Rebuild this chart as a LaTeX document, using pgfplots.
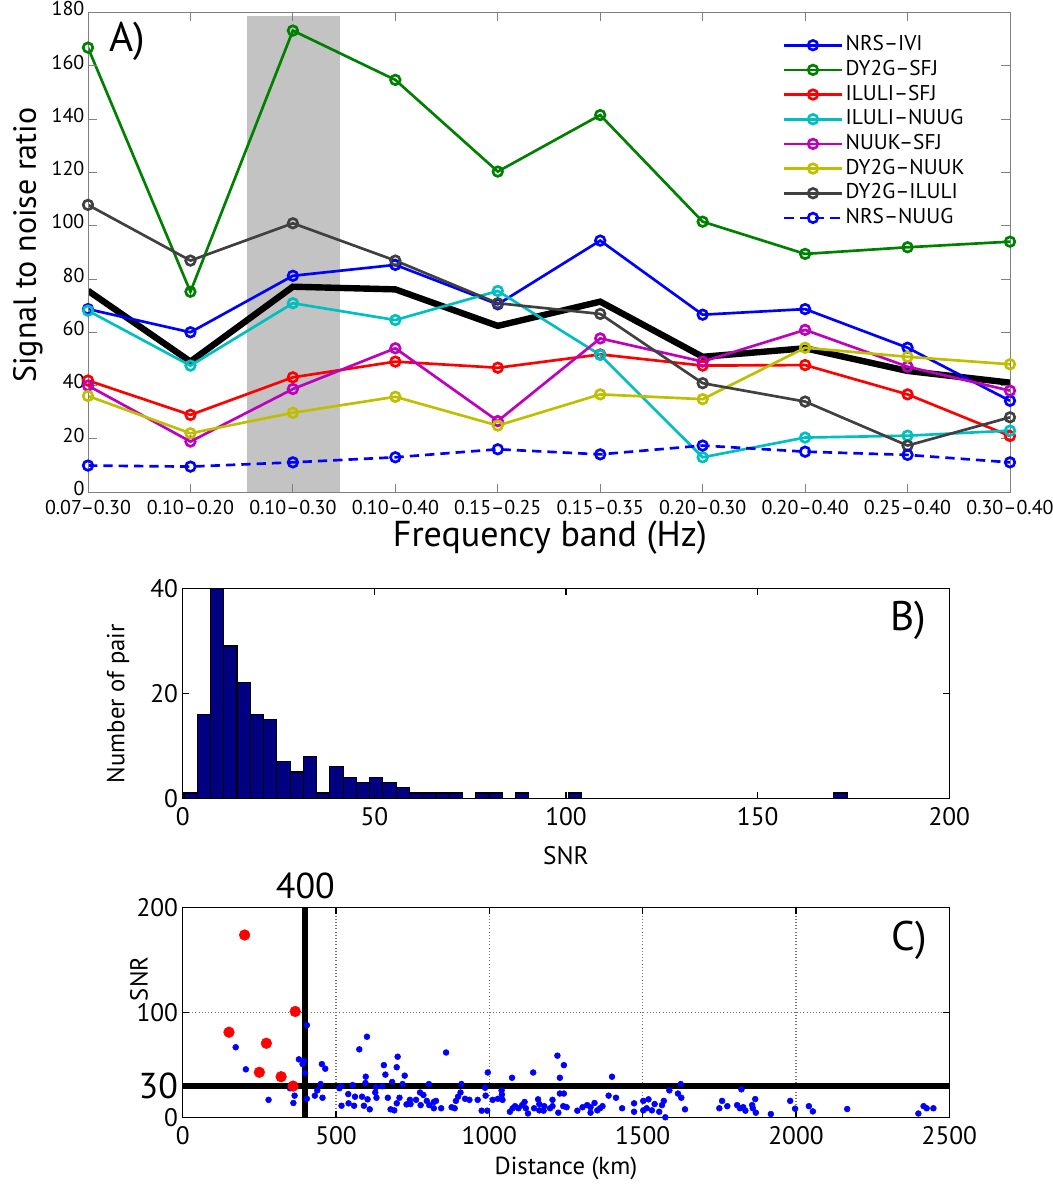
\documentclass[border=0pt]{standalone}
\usepackage{pgfplots}
\pgfplotsset{compat=1.18}
\usepackage{fontspec}
\setmainfont{PT Sans}
\definecolor{mblue}{rgb}{0,0,1}
\definecolor{mgreen}{rgb}{0,0.5,0}
\definecolor{mred}{rgb}{1,0,0}
\definecolor{mcyan}{rgb}{0,0.75,0.75}
\definecolor{mmag}{rgb}{0.75,0,0.75}
\definecolor{myel}{rgb}{0.75,0.75,0}
\definecolor{mgray}{rgb}{0.25,0.25,0.25}
\definecolor{shade}{RGB}{195,195,195}
\definecolor{navy}{rgb}{0,0,0.5}
\pgfplotsset{/pgf/number format/assume math mode=true, /pgf/number format/1000 sep={}}
\begin{document}
\begin{tikzpicture}
\path[use as bounding box] (0,0) rectangle (789.75pt,892.5pt);
% ---------------- Panel A ----------------
\begin{axis}[
  at={(66pt,523.35pt)}, anchor=south west,
  scale only axis, width=691.5pt, height=359.8pt,
  xmin=0, xmax=9, ymin=0, ymax=180,
  xtick={0,...,9},
  xticklabels={0.07--0.30,0.10--0.20,0.10--0.30,0.10--0.40,0.15--0.25,0.15--0.35,0.20--0.30,0.20--0.40,0.25--0.40,0.30--0.40},
  ytick={0,20,...,180},
  tick align=inside, major tick length=6.5pt,
  axis line style={black!50}, tick style={black!50, line width=0.6pt},
  ticklabel style={font=\fontsize{15}{16}\selectfont, inner sep=1pt},
  xticklabel style={yshift=-5pt},
  yticklabel style={yshift=2.8pt, xshift=-1.5pt},
  xlabel={Frequency band (Hz)}, ylabel={Signal to noise ratio},
  xlabel style={at={(axis description cs:0.501,-0.0955)}, anchor=center, font=\fontsize{27}{30}\selectfont},
  ylabel style={at={(axis description cs:-0.0651,0.515)}, anchor=center, font=\fontsize{24}{27}\selectfont},
  axis on top,
  legend style={at={(axis description cs:0.7535,0.958)}, anchor=north west, draw=none, fill=none,
    inner sep=0pt, font=\fontsize{16}{18}\selectfont, row sep=0pt,
    nodes={inner sep=2pt, text height=11.5pt, text depth=3pt}},
  legend cell align=left,
  legend image code/.code={\draw[mark repeat=2,mark phase=2,#1] plot coordinates {(0pt,0pt)(21.5pt,0pt)(43pt,0pt)};},
  every axis plot/.append style={line width=2pt, mark=o, mark size=3.6pt, mark options={solid}},
]
\addplot[fill=shade, draw=none, mark=none, forget plot] coordinates {(1.55,0)(2.46,0)(2.46,178.5)(1.55,178.5)} -- cycle;
\addplot[black, line width=4.8pt, mark=none, forget plot] coordinates {(0,75.6)(1,49)(2,77.1)(3,76.1)(4,62.4)(5,71.5)(6,50.8)(7,54)(8,45.5)(9,41.1)};
\addplot[mblue] coordinates {(0,68.7)(1,60)(2,81.2)(3,85.3)(4,70.5)(5,94.4)(6,66.6)(7,68.7)(8,54.2)(9,34.3)};
\addlegendentry{NRS--IVI}
\addplot[mgreen] coordinates {(0,166.8)(1,75.2)(2,173.2)(3,154.7)(4,120.3)(5,141.5)(6,101.5)(7,89.4)(8,91.9)(9,94)};
\addlegendentry{DY2G--SFJ}
\addplot[mred] coordinates {(0,41.9)(1,29)(2,43.1)(3,49)(4,46.7)(5,51.7)(6,47.5)(7,47.7)(8,36.7)(9,21.1)};
\addlegendentry{ILULI--SFJ}
\addplot[mcyan] coordinates {(0,68.1)(1,47.5)(2,70.9)(3,64.6)(4,75.5)(5,51.5)(6,13.1)(7,20.5)(8,21.2)(9,23.1)};
\addlegendentry{ILULI--NUUG}
\addplot[mmag] coordinates {(0,40)(1,19)(2,38.7)(3,54)(4,26.7)(5,57.7)(6,49)(7,60.9)(8,47.1)(9,38.1)};
\addlegendentry{NUUK--SFJ}
\addplot[myel] coordinates {(0,36.1)(1,22.1)(2,29.8)(3,35.8)(4,25)(5,36.7)(6,34.9)(7,54.2)(8,50.8)(9,48)};
\addlegendentry{DY2G--NUUK}
\addplot[mgray] coordinates {(0,107.8)(1,86.9)(2,100.9)(3,86.9)(4,70.9)(5,66.9)(6,40.9)(7,34)(8,17.5)(9,28.1)};
\addlegendentry{DY2G--ILULI}
\addplot[mblue, dash pattern=on 7pt off 4.5pt] coordinates {(0,10)(1,9.6)(2,11.2)(3,13.1)(4,16.1)(5,14.2)(6,17.5)(7,15.2)(8,14)(9,11.2)};
\addlegendentry{NRS--NUUG}
\node[anchor=base, font=\fontsize{31}{31}\selectfont] at (axis description cs:0.0428,0.918) {A)};
\end{axis}
% ---------------- Panel B ----------------
\begin{axis}[
  at={(137pt,293.8pt)}, anchor=south west,
  scale only axis, width=575pt, height=157.5pt,
  xmin=0, xmax=200, ymin=0, ymax=40,
  xtick={0,50,...,200}, ytick={0,20,40},
  tick align=inside, major tick length=5pt,
  axis line style={black, line width=0.8pt}, tick style={black, line width=0.8pt},
  ticklabel style={font=\fontsize{19}{21}\selectfont},
  xticklabel style={yshift=-3pt},
  xlabel={SNR}, ylabel={Number of pair},
  xlabel style={at={(axis description cs:0.5,-0.275)}, anchor=center, font=\fontsize{19}{21}\selectfont},
  ylabel style={at={(axis description cs:-0.0844,0.45)}, anchor=center, font=\fontsize{18.5}{21}\selectfont},
  axis on top,
]
\addplot[ybar interval, fill=navy, draw=black, line width=0.8pt] coordinates {
(0.34,1)(3.80,16)(7.26,40)(10.72,29)(14.18,22)(17.64,16)(21.10,15)(24.56,7)(28.02,5)(31.48,8)
(34.94,1)(38.40,6)(41.86,4)(45.32,3)(48.78,4)(52.24,3)(55.70,2)(59.16,1)(62.62,1)(66.08,1)
(69.54,1)(73.00,0)(76.46,1)(79.92,1)(83.38,0)(86.84,1)(90.30,0)(93.76,0)(97.22,0)(100.68,1)
(104.14,0)(107.60,0)(111.06,0)(114.52,0)(117.98,0)(121.44,0)(124.90,0)(128.36,0)(131.82,0)(135.28,0)
(138.74,0)(142.20,0)(145.66,0)(149.12,0)(152.58,0)(156.04,0)(159.50,0)(162.96,0)(166.42,0)(169.88,1)
(173.34,1)};
\node[anchor=base, font=\fontsize{31}{31}\selectfont] at (axis description cs:0.9468,0.801) {B)};
\end{axis}
% ---------------- Panel C ----------------
\begin{axis}[
  at={(137pt,54.2pt)}, anchor=south west,
  scale only axis, width=575pt, height=157.8pt,
  xmin=0, xmax=2500, ymin=0, ymax=200,
  xtick={0,500,...,2500}, ytick={0,30,100,200},
  yticklabels={0,{\fontsize{27}{27}\selectfont 30},100,200},
  tick align=inside, major tick length=5pt,
  axis line style={black, line width=0.8pt}, tick style={black, line width=0.8pt},
  ticklabel style={font=\fontsize{19}{21}\selectfont},
  xticklabel style={yshift=-3pt},
  grid=major, grid style={dotted, black!55, line width=0.9pt},
  xlabel={Distance (km)}, ylabel={SNR},
  xlabel style={at={(axis description cs:0.5,-0.239)}, anchor=center, font=\fontsize{18.5}{21}\selectfont},
  ylabel style={at={(axis description cs:-0.057,0.66)}, anchor=center, font=\fontsize{18.5}{21}\selectfont},
  clip mode=individual,
]
\addplot[black, line width=4.5pt] coordinates {(0,30)(2500,30)};
\addplot[black, line width=4.5pt] coordinates {(400,0)(400,200)};
\addplot[only marks, mark=*, mark size=2.2pt, mark options={draw=mblue, fill=mblue}] coordinates {
(405,88)(173,67)(206,46)(601,77)(576,65)(379,55.5)(396,54)(391,51)(454,51)(465,46.6)(399,42.5)(597,39)(596,33)(450,32)(554,31)(518,30)(350,28)(439,26)(511,28)(630,29)(628,24)(540,22.5)(280,17)(365,21)(361,14)(405,18)(431,21)(456,19)(562,20)(585,20)(603,17.5)(632,19)(518,11.4)(541,13.7)(559,11.4)(591,11.4)(610,8)
(859,62)(701,58)(656,50)(698,48)(661,41)(724,40)(683,34)(717,32)(803,32)(909,32)(995,43)(1222,59)(1243,50)(1143,43)(1074,38)(1230,38)(986,28.5)(651,30)(669,19)(707,19)(698,13.7)(678,8)(690,7)(730,12.7)(743,13)(741,17)(761,17)(774,24)(785,21.6)(776,12)(796,16)(804,12)(819,15)(819,9)(826,16)(843,9)(877,10)(887,9)(891,16)(898,20)(906,24)(921,18)(935,17)(962,17)(975,6.7)(993,6.7)(988,21)(1011,17)(1028,18)(1040,26)(1041,22)(1043,17)(1067,5.7)(1076,9)(1084,11)(1095,9)(1107,12)(1115,15)(1119,9)(1126,4)(1146,9)(1159,17.5)(1163,13)(1163,7)(1179,11)(1177,6.7)(1198,9)(1206,17)(1206,11)(1225,4.8)(1230,23)(1243,23)(1241,11)(1252,10)
(1400,39)(1287,6.7)(1304,10)(1319,12)(1330,10)(1330,4.8)(1343,14)(1352,7)(1361,9)(1369,11)(1389,21)(1413,19)(1433,9)(1472,13.7)(1472,5.7)(1502,16)(1502,7)(1513,9)(1519,17.5)(1530,7)(1539,13)(1554,5.7)(1563,12)(1569,16)(1574,0.4)(1587,26)(1615,23)(1624,32)(1626,19)(1638,8)(1750,9)(1759,16)(1776,11)(1808,12)(1822,27)(1817,9)(1828,10)(1835,6.7)(1857,12)(1859,9)(1867,17.7)(1869,4.8)
(1918,3.5)(1981,16)(1997,8.6)(2042,11)(2055,6)(2167,8.3)(2399,4)(2416,11)(2426,9)(2448,9)};
\addplot[only marks, mark=*, mark size=4pt, mark options={draw=mred, fill=mred}] coordinates {
(202,173.7)(367,101)(151,81.3)(273,70.8)(250,43.2)(321,39)(360,30.1)};
\node[anchor=base, font=\fontsize{27}{27}\selectfont] at (axis cs:400,200) [yshift=7pt] {400};
\node[anchor=base, font=\fontsize{31}{31}\selectfont] at (axis description cs:0.9475,0.797) {C)};
\end{axis}
\end{tikzpicture}
\end{document}
